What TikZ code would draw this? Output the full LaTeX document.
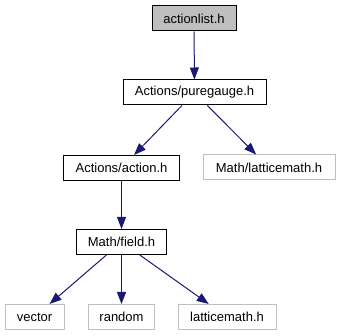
\documentclass[tikz,border=0pt]{standalone}
\usepackage{fontspec}
\setmainfont{Liberation Sans}
\usepackage{tikz}
\usetikzlibrary{arrows.meta}
\definecolor{midnightblue}{RGB}{25,25,112}
\definecolor{extgray}{RGB}{191,191,191}
\tikzset{>={Triangle[length=12pt,width=9pt]}}
\tikzset{%
    header/.style={%
        draw=black, fill=white, line width=1pt, inner sep=0pt,
        minimum width=#1, minimum height=25pt,
        font=\fontsize{13}{15}\selectfont
    },
    current/.style={header=#1, fill=extgray},
    external/.style={header=#1, draw=extgray},
    include/.style={->, draw=midnightblue, line width=1pt}
}

\begin{document}
\begin{tikzpicture}[x=1pt,y=-1pt]
\useasboundingbox (0,0) rectangle (340,336);
\node[current=84pt]   (actionlist)  at (194,18.5)  {actionlist.h};
\node[header=143pt]   (puregauge)   at (194.5,92.5) {Actions/puregauge.h};
\node[header=116pt]   (action)      at (121.5,168)   {Actions/action.h};
\node[external=132pt] (mathlattice) at (269,167.5) {Math/latticemath.h};
\node[header=90pt]    (field)       at (121.5,242)   {Math/field.h};
\node[external=59pt]  (vector)      at (34.5,317)  {vector};
\node[external=66pt]  (random)      at (121.5,317)   {random};
\node[external=98pt]  (latticemath) at (227,317)   {latticemath.h};
\draw[include] (actionlist) -- (puregauge);
\draw[include] (puregauge) -- (action);
\draw[include] (puregauge) -- (mathlattice);
\draw[include] (action) -- (field);
\draw[include] (field) -- (vector);
\draw[include] (field) -- (random);
\draw[include] (field) -- (latticemath);
\end{tikzpicture}
\end{document}
